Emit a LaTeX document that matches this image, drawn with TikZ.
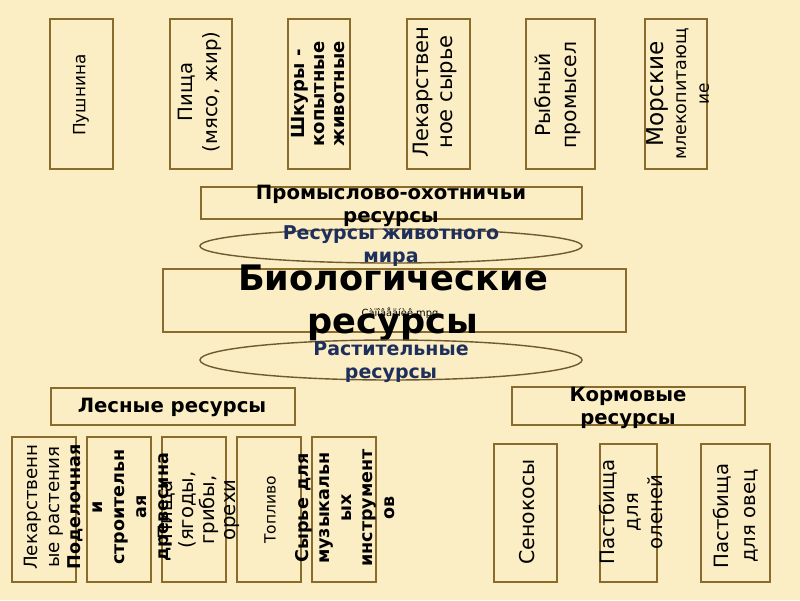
\documentclass[tikz,border=0pt]{standalone}
\usepackage{fontspec}
\setmainfont{DejaVu Sans}
\usetikzlibrary{shapes.geometric}
\definecolor{bgpaper}{HTML}{FBEDC4}
\definecolor{boxbrown}{HTML}{8A6B2C}
\definecolor{ringbrown}{HTML}{6F5B2F}
\definecolor{textnavy}{HTML}{1E2F5C}
\newcommand{\setfs}[2]{\fontsize{#1}{#2}\selectfont}
\tikzset{
  resbox/.style={draw=boxbrown, line width=1.4pt, inner sep=0pt},
  ring/.style={ellipse, draw=ringbrown, line width=1pt, inner sep=0pt,
    minimum width=9.55cm},
  vtext/.style={rotate=90, align=center, inner sep=0pt},
  htext/.style={align=center, inner sep=0pt},
  navytext/.style={htext, text=textnavy, font=\bfseries\setfs{13.5}{16.5}}
}

\begin{document}
\begin{tikzpicture}[x=0.025cm, y=-0.025cm]
        \fill[bgpaper] (0,0) rectangle (800,600);
        \useasboundingbox (0,0) rectangle (800,600);

        % top row: animal resources
        \foreach \n/\x/\w in {pushnina/81.5/1.575cm, pishcha/201/1.55cm, shkury/319/1.55cm,
            lekarstv/438.5/1.575cm, ryba/560.5/1.725cm, morskie/676/1.55cm}
            \node[resbox, minimum width=\w, minimum height=3.75cm] (\n) at (\x,94) {};

        \node[vtext, font=\setfs{12}{15}] (pushnina-t) at (81,95) {Пушнина};
        \node[vtext, font=\setfs{14}{17.7}] (pishcha-t) at (200,92) {Пища\\(мясо, жир)};
        \node[vtext, font=\bfseries\setfs{12.8}{14.4}] (shkury-t) at (318,94) {Шкуры -\\копытные\\животные};
        \node[vtext, font=\setfs{15}{17}] (lekarstv-t) at (435,92) {Лекарствен\\ное сырье};
        \node[vtext, font=\setfs{14.5}{18.5}] (ryba-t) at (558,95) {Рыбный\\промысел};
        \node[vtext, font=\setfs{12}{16}] (morskie-t) at (678,94)
            {\setfs{16.5}{16}Морские\\\setfs{12.5}{16}млекопитающ\\ие};

        % middle: headings and rings
        \node[resbox, minimum width=9.525cm, minimum height=0.8cm] (promysel) at (391.5,203) {};
        \node[htext, font=\bfseries\setfs{14}{16.3}] (promysel-t) at (391,206) {Промыслово-охотничьи\\ресурсы};

        \node[ring, minimum height=0.85cm] (zhivot) at (391,246) {};
        \node[navytext] (zhivot-t) at (391,246) {Ресурсы животного\\мира};

        \node[resbox, minimum width=11.575cm, minimum height=1.575cm] (bio) at (394.5,300.5) {};
        \node[htext, font=\setfs{7}{8}] (bio-file) at (400,313) {Çàïîâåäíèê.mpg};
        \node[htext, font=\bfseries\setfs{25}{30.5}] (bio-t) at (393,303) {Биологические\\ресурсы};

        \node[ring, minimum height=1cm] (rastit) at (391,360) {};
        \node[navytext] (rastit-t) at (391,362) {Растительные\\ресурсы};

        \node[resbox, minimum width=6.1cm, minimum height=0.925cm] (lesnye) at (173,406.5) {};
        \node[htext, font=\bfseries\setfs{14}{16.3}] (lesnye-t) at (172,407) {Лесные ресурсы};
        \node[resbox, minimum width=5.825cm, minimum height=0.95cm] (kormovye) at (628.5,406) {};
        \node[htext, font=\bfseries\setfs{14}{16.3}] (kormovye-t) at (628,408) {Кормовые\\ресурсы};

        % bottom left: forest resources
        \foreach \n/\x in {lekrast/44, podel/119, pishch2/194, toplivo/269, syrie/344}
            \node[resbox, minimum width=1.6cm, minimum height=3.625cm] (\n) at (\x,509.5) {};

        \node[vtext, font=\setfs{13}{15.6}] (lekrast-t) at (44,507) {Лекарственн\\ые растения};
        \node[vtext, font=\bfseries\setfs{12.5}{15.6}] (podel-t) at (120,507)
            {Поделочная\\и\\строительн\\ая\\древесина};
        \node[vtext, font=\setfs{14}{15}] (pishch2-t) at (199,510) {Пища\\(ягоды,\\грибы,\\орехи};
        \node[vtext, font=\setfs{11}{13}] (toplivo-t) at (270,510) {Топливо};
        \node[vtext, font=\bfseries\setfs{12.5}{15.3}] (syrie-t) at (345,508)
            {Сырье для\\музыкальн\\ых\\инструмент\\ов};

        % bottom right: fodder resources
        \node[resbox, minimum width=1.575cm, minimum height=3.45cm] (senokos) at (525.5,513) {};
        \node[resbox, minimum width=1.425cm, minimum height=3.45cm] (oleni) at (628.5,513) {};
        \node[resbox, minimum width=1.725cm, minimum height=3.45cm] (ovcy) at (735.5,513) {};
        \node[vtext, font=\setfs{14.5}{17}] (senokos-t) at (527,512) {Сенокосы};
        \node[vtext, font=\setfs{14}{17}] (oleni-t) at (631,512) {Пастбища\\для\\оленей};
        \node[vtext, font=\setfs{14}{19}] (ovcy-t) at (736,516) {Пастбища\\для овец};
    \end{tikzpicture}
\end{document}
